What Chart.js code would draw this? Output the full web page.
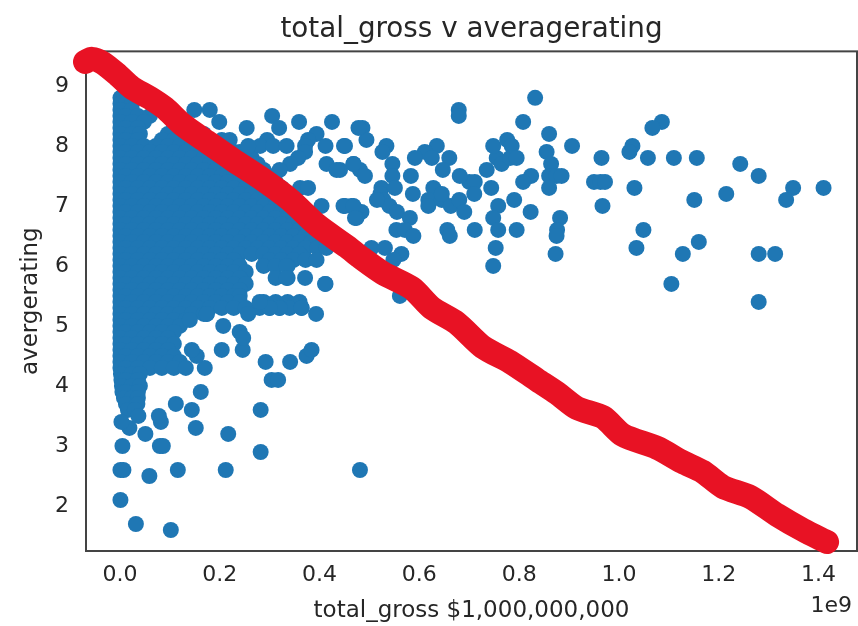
<!DOCTYPE html>
<html>
<head>
<meta charset="utf-8">
<style>html,body{margin:0;padding:0;background:#fff}canvas{display:block}</style>
<script src="https://cdn.jsdelivr.net/npm/chart.js@4"></script>
</head>
<body>
<canvas id="c" width="858" height="626" style="width:858px;height:626px"></canvas>
<script>
const chartTitle = "total_gross v averagerating";
const xAxisTitle = "total_gross $1,000,000,000";
const yAxisTitle = "avergerating";
const xOffsetText = "1e9";
const xTicks = [0.0,0.2,0.4,0.6,0.8,1.0,1.2,1.4];
const yTicks = [2,3,4,5,6,7,8,9];

// total gross is in units of 1e9
const denseRatings = [8.8,8.7,8.6,8.5,8.4,8.3,8.2,8.1,8.0,7.9,7.8,7.7,7.6,7.5,7.4,7.3,7.2,7.1,7.0,6.9,6.8,6.7,6.6,6.5,6.4,6.3,6.2,6.1,6.0,5.9,5.8,5.7,5.6,5.5,5.4,5.3,5.2,5.1,5.0,4.9,4.8,4.7,4.6,4.5,4.4,4.3,4.2,4.1,4.0,3.9,3.8,3.7,3.6];
const denseGross = [
[.001,.008],
[.001,.012,.024],
[.001,.024],
[.001,.012,.036,.06],
[.001,.024,.048],
[.001,.012,.036,.108,.132],
[.001,.024,.04,.096,.12,.144,.168],
[.001,.012,.036,.084,.108,.132,.156,.18,.204],
[.001,.024,.048,.072,.096,.12,.144,.168,.192,.216],
[.001,.012,.036,.06,.084,.108,.132,.156,.18,.204,.228,.24],
[.001,.024,.048,.072,.096,.12,.144,.168,.192,.216,.24,.264],
[.001,.012,.036,.06,.084,.108,.132,.156,.18,.204,.228,.252,.276],
[.001,.024,.048,.072,.096,.12,.144,.168,.192,.216,.24,.264,.288],
[.001,.012,.036,.06,.084,.108,.132,.156,.18,.204,.228,.252,.276,.3],
[.001,.024,.048,.072,.096,.12,.144,.168,.192,.216,.24,.264,.288,.312],
[.001,.012,.036,.06,.084,.108,.132,.156,.18,.204,.228,.252,.276,.3,.324],
[.001,.024,.048,.072,.096,.12,.144,.168,.192,.216,.24,.264,.288,.312,.336],
[.001,.012,.036,.06,.084,.108,.132,.156,.18,.204,.228,.252,.276,.3,.324,.348],
[.001,.024,.048,.072,.096,.12,.144,.168,.192,.216,.24,.264,.288,.312,.336,.36],
[.001,.012,.036,.06,.084,.108,.132,.156,.18,.204,.228,.252,.276,.3,.324,.348,.372],
[.001,.024,.048,.072,.096,.12,.144,.168,.192,.216,.24,.264,.288,.312,.336,.36,.384],
[.001,.012,.036,.06,.084,.108,.132,.156,.18,.204,.228,.252,.276,.3,.324,.348,.372,.396],
[.001,.024,.048,.072,.096,.12,.144,.168,.192,.216,.24,.264,.288,.312,.336,.36,.384,.408],
[.001,.012,.036,.06,.084,.108,.132,.156,.18,.204,.228,.252,.276,.3,.324,.348,.372,.396,.42],
[.001,.024,.048,.072,.096,.12,.144,.168,.192,.216,.24,.264,.288,.312,.336,.36,.384,.408],
[.001,.012,.036,.06,.084,.108,.132,.156,.18,.204,.228,.252,.276,.3,.324,.348,.372,.396],
[.001,.024,.048,.072,.096,.12,.144,.168,.192,.216,.24,.264,.288,.312,.336,.36],
[.001,.012,.036,.06,.084,.108,.132,.156,.18,.204,.228,.3,.324,.348,.372],
[.001,.024,.048,.072,.096,.12,.144,.168,.192,.216,.24,.288,.312,.336],
[.001,.012,.036,.06,.084,.108,.132,.156,.18,.204,.228,.252],
[.001,.024,.048,.072,.096,.12,.144,.168,.192,.216,.24,.312,.336],
[.001,.012,.036,.06,.084,.108,.132,.156,.18,.204,.228,.252],
[.001,.024,.048,.072,.096,.12,.144,.168,.192,.216,.24],
[.001,.012,.036,.06,.084,.108,.132,.156,.18,.204,.228,.24],
[.001,.024,.048,.072,.096,.12,.144,.168,.192,.216,.24,.288,.312,.336,.36],
[.001,.012,.036,.06,.084,.108,.132,.156,.18,.204,.228,.252,.28,.3,.32,.34,.364],
[.001,.024,.048,.072,.096,.12,.144,.168,.174],
[.001,.012,.036,.06,.084,.108,.132],
[.001,.024,.048,.072,.096,.12],
[.001,.012,.036,.06,.084,.108],
[.001,.024,.048,.072,.096],
[.001,.012,.036,.06,.084,.108],
[.001,.024,.048,.072,.096],
[.001,.012,.036,.06,.084,.108],
[.001,.024,.048,.072,.096,.12],
[.001,.012,.036,.06,.084,.108,.132],
[.002,.024,.04],
[.003,.012,.036],
[.004,.024,.04],
[.005,.012,.036],
[.008,.024,.036],
[.012,.035],
[.016,.03]
];

const sparseGross = [
1.086,1.067,1.027,1.021,1.058,1.11,1.156,1.243,1.28,1.349,1.335,1.41,1.215,1.151,1.031,1.049,1.035,1.16,1.128,1.28,1.313,1.105,1.28,
.965,.95,.963,.972,.967,
.832,.808,.86,.679,.679,.486,.494,.451,.534,.526,.546,.468,.481,.491,.441,.546,.635,.611,.591,.625,.66,.647,.583,.587,.524,.522,.551,.528,.54,.555,.515,
.628,.618,.618,.645,.663,.645,.70,.68,.69,.681,.711,.735,.755,.765,.71,
.748,.776,.785,.782,.795,.855,.864,.906,.86,.875,.885,.86,.824,.808,.744,.79,.758,.823,.748,.758,.795,.711,.656,.661,.882,.876,.875,.873,.753,.748,
.554,.581,.571,.588,.451,.464,.484,.474,.504,.531,.564,.548,.561,
.149,.18,.199,.254,.305,.319,.359,.425,.394,.377,.371,.371,.357,.341,.32,.412,.449,.414,.434,.468,.478,.295,.281,.257,.22,.307,.334,.361,.377,.404,.448,.468,.471,.414,.394,.411,.371,.334,.334,
.001,.032,.102,.059,.001,.007,.116,.212,.481,.282,.005,.08,.086,.051,.217,.152,.019,.003,.037,.082,.078,.144,.282,.112,.162,.304,.317,.292,.341,.374,.384,.17,.154,.144,.204,.246,.207,.24,.247,.393,.364,.32,.30,.28,.174,.14,.257,.412
];
const sparseRatings = [
8.4,8.3,8.0,7.9,7.8,7.8,7.8,7.7,7.5,7.3,7.1,7.3,7.2,7.1,7.3,6.6,6.3,6.4,6.2,6.2,6.2,5.7,5.4,
7.8,7.4,7.4,7.4,7.0,
8.8,8.4,8.2,8.6,8.5,8.3,8.1,8.0,8.0,7.9,7.7,7.7,7.6,7.5,7.6,7.5,8.0,7.9,7.8,7.8,7.8,7.6,7.5,7.2,7.3,7.2,7.3,7.1,7.0,6.9,7.1,
7.3,7.1,7.0,7.1,7.0,7.2,7.4,7.1,6.9,7.5,7.4,7.6,7.8,7.7,7.2,
8.0,8.1,8.0,7.8,7.8,7.9,7.7,8.0,7.5,7.5,7.5,7.3,7.5,7.4,7.3,7.1,7.0,6.9,6.8,6.6,6.6,6.6,6.6,6.5,6.8,6.6,6.5,6.2,6.3,6.0,
6.6,6.8,6.6,6.5,7.0,7.0,6.9,6.8,6.3,6.3,6.2,6.1,5.5,
8.6,8.6,8.4,8.3,8.5,8.3,8.4,8.4,8.2,8.1,8.0,7.9,7.8,7.7,7.6,8.0,8.0,7.7,7.6,7.7,8.3,8.1,8.0,8.0,8.1,8.0,8.0,7.3,7.3,7.0,7.0,7.0,6.8,6.3,6.1,5.7,5.8,6.0,5.8,
2.1,1.7,1.6,2.5,2.6,2.6,2.6,2.6,2.6,2.9,3.0,3.0,3.0,3.2,3.2,3.3,3.3,3.4,3.5,3.4,3.5,3.6,3.6,3.7,3.9,4.1,4.1,4.4,4.4,4.5,4.6,4.3,4.5,4.6,4.6,4.6,5.0,4.9,4.8,5.2,5.3,5.3,5.3,5.4,5.2,5.1,5.2,5.7
];

// red ink stroke drawn across the figure
const strokeGross = [-.070,-.056,-.034,-.004,.024,.060,.090,.126,.174,.226,.281,.341,.395,.455,.481,.527,.585,.625,.675,.727,.782,.836,.876,.916,.968,1.008,1.076,1.128,1.168,1.208,1.263,1.317,1.369,1.417];
const strokeRating = [9.40,9.45,9.38,9.18,8.97,8.80,8.63,8.35,8.07,7.77,7.47,7.10,6.68,6.32,6.15,5.88,5.63,5.30,5.05,4.65,4.40,4.10,3.88,3.63,3.48,3.18,2.97,2.73,2.57,2.32,2.15,1.85,1.60,1.40];

const BLUE = "#1f77b4", RED = "#e81224", INK = "#262626", SPINE = "#444444";
const FONT = "'DejaVu Sans'";

const scatterPoints = [];
denseRatings.forEach((r,i)=>denseGross[i].forEach(g=>scatterPoints.push({x:g,y:r})));
sparseGross.forEach((g,i)=>scatterPoints.push({x:g,y:sparseRatings[i]}));
const strokePoints = strokeGross.map((g,i)=>({x:g,y:strokeRating[i]}));

const frame = {
  id:"frame",
  beforeDatasetsDraw(chart){
    const {ctx,chartArea:a}=chart;
    ctx.save();ctx.strokeStyle=SPINE;ctx.lineWidth=2;
    ctx.strokeRect(a.left,a.top,a.right-a.left,a.bottom-a.top);
    ctx.restore();
  },
  afterDraw(chart){
    const {ctx}=chart;
    ctx.save();ctx.fillStyle=INK;ctx.font="22px "+FONT;
    ctx.textAlign="right";ctx.textBaseline="middle";
    ctx.fillText(xOffsetText,852,606);
    ctx.restore();
  }
};

new Chart(document.getElementById("c"),{
  type:"scatter",
  data:{datasets:[
    {data:strokePoints,showLine:true,borderColor:RED,borderWidth:24,pointRadius:0,tension:0.25,
     borderCapStyle:"round",borderJoinStyle:"round",clip:false,order:0},
    {data:scatterPoints,backgroundColor:BLUE,borderColor:BLUE,borderWidth:0,pointRadius:8,order:1}
  ]},
  plugins:[frame],
  options:{
    responsive:false,animation:false,devicePixelRatio:1,
    layout:{autoPadding:false,padding:{left:0,right:1,top:0,bottom:0}},
    plugins:{
      legend:{display:false},tooltip:{enabled:false},
      title:{display:true,fullSize:false,text:chartTitle,color:INK,font:{family:FONT,size:27.8,weight:"normal",lineHeight:1.2},padding:{top:13,bottom:5}}
    },
    scales:{
      x:{type:"linear",min:-0.068,max:1.477,
        grid:{display:false,drawTicks:true,tickLength:9,tickColor:SPINE,tickWidth:2},
        border:{display:false},
        afterFit(s){s.height=75;s.paddingLeft=0;s.paddingRight=0;},
        afterBuildTicks(s){s.ticks=xTicks.map(v=>({value:v}));},
        ticks:{color:INK,font:{family:FONT,size:22},padding:2,autoSkip:false,maxRotation:0,includeBounds:false,callback:v=>Number(v).toFixed(1)},
        title:{display:true,text:xAxisTitle,color:INK,font:{family:FONT,size:23},padding:{top:0,bottom:1}}
      },
      y:{type:"linear",min:1.25,max:9.575,
        grid:{display:false,drawTicks:true,tickLength:8,tickColor:SPINE,tickWidth:2},
        border:{display:false},
        afterFit(s){s.width=86;s.paddingTop=0;s.paddingBottom=0;},
        afterBuildTicks(s){s.ticks=yTicks.map(v=>({value:v}));},
        ticks:{color:INK,font:{family:FONT,size:22},padding:9,autoSkip:false,includeBounds:false},
        title:{display:true,text:yAxisTitle,color:INK,font:{family:FONT,size:23},padding:{top:17,bottom:0}}
      }
    }
  }
});
</script>
</body>
</html>
